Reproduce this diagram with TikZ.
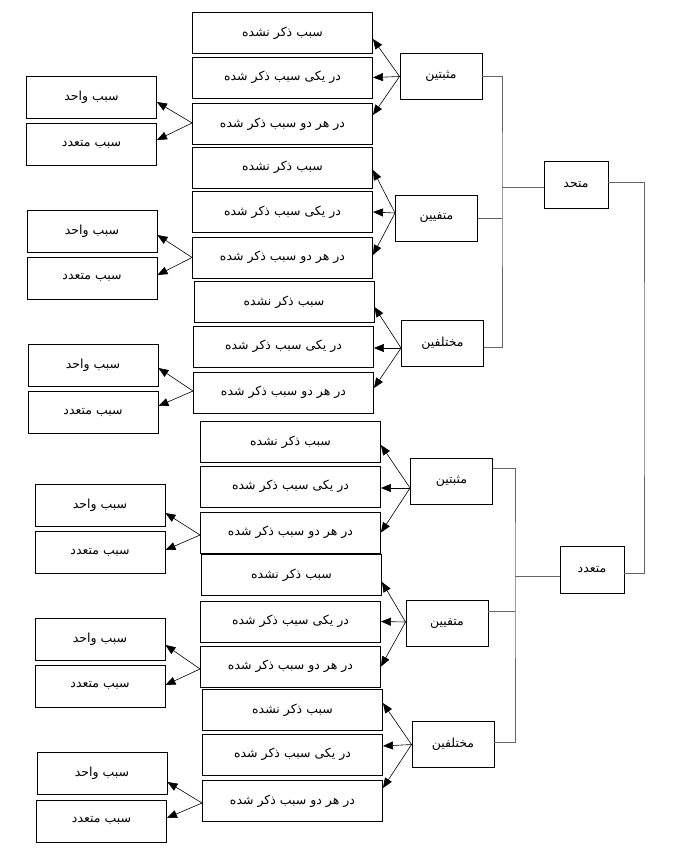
\documentclass[tikz,border=0pt]{standalone}
\usepackage{fontspec}
\newfontfamily\arabicfont[Script=Arabic]{DejaVu Sans}
\TeXXeTstate=1
\usetikzlibrary{arrows.meta}
\newcommand\rltext[1]{\arabicfont\beginR #1\endR}

\begin{document}
\begin{tikzpicture}[x=1pt,y=-1pt,
    box/.style={draw,line width=0.9pt,inner sep=0pt,font=\fontsize{12.5}{15}\selectfont},
    midbox/.style={box,minimum width=180pt,minimum height=41pt},
    sidebox/.style={box,minimum width=130pt,minimum height=42pt},
    kindbox/.style={box,minimum width=82pt,minimum height=46pt},
    rootbox/.style={box,minimum width=64pt,minimum height=47pt},
    arr/.style={-{Triangle[length=10pt,width=8pt]},line width=0.6pt},
    link/.style={draw=black!60,line width=0.9pt}]
  \useasboundingbox (0,0) rectangle (679,867);

  % roots
  \node [rootbox] (R1) at (576,184.5) {\rltext{متحد}};
  \node [rootbox] (R2) at (592,569.5) {\rltext{متعدد}};

  % kinds, upper half
  \node [kindbox] (A0) at (441,76.5) {\rltext{مثبتین}};
  \node [kindbox] (B0) at (436.5,218) {\rltext{متفیین}};
  \node [kindbox] (C0) at (442.5,343) {\rltext{مختلفین}};
  % kinds, lower half
  \node [kindbox] (D0) at (451.5,481) {\rltext{مثبتین}};
  \node [kindbox] (E0) at (447,623.5) {\rltext{متفیین}};
  \node [kindbox] (F0) at (453,744.5) {\rltext{مختلفین}};

  % middle column
  \node [midbox] (a1) at (282.5,33) {\rltext{سبب ذکر نشده}};
  \node [midbox] (a2) at (282.5,77.5) {\rltext{در یکی سبب ذکر شده}};
  \node [midbox] (a3) at (282.5,124) {\rltext{در هر دو سبب ذکر شده}};
  \node [midbox] (b1) at (282.5,167.5) {\rltext{سبب ذکر نشده}};
  \node [midbox] (b2) at (282.5,212) {\rltext{در یکی سبب ذکر شده}};
  \node [midbox] (b3) at (282.5,257.5) {\rltext{در هر دو سبب ذکر شده}};
  \node [midbox] (c1) at (284,302) {\rltext{سبب ذکر نشده}};
  \node [midbox] (c2) at (283.5,346.5) {\rltext{در یکی سبب ذکر شده}};
  \node [midbox] (c3) at (283.5,392.5) {\rltext{در هر دو سبب ذکر شده}};
  \node [midbox] (d1) at (290.5,442) {\rltext{سبب ذکر نشده}};
  \node [midbox] (d2) at (290.5,486.5) {\rltext{در یکی سبب ذکر شده}};
  \node [midbox] (d3) at (290.5,532.5) {\rltext{در هر دو سبب ذکر شده}};
  \node [midbox] (e1) at (291.5,575) {\rltext{سبب ذکر نشده}};
  \node [midbox] (e2) at (290.5,621.5) {\rltext{در یکی سبب ذکر شده}};
  \node [midbox] (e3) at (290.5,666.5) {\rltext{در هر دو سبب ذکر شده}};
  \node [midbox] (f1) at (292.5,710) {\rltext{سبب ذکر نشده}};
  \node [midbox] (f2) at (292.5,754.5) {\rltext{در یکی سبب ذکر شده}};
  \node [midbox] (f3) at (292.5,801) {\rltext{در هر دو سبب ذکر شده}};

  % left column
  \node [sidebox] (aL1) at (91.5,97) {\rltext{سبب واحد}};
  \node [sidebox] (aL2) at (91.5,144.5) {\rltext{سبب متعدد}};
  \node [sidebox] (bL1) at (92,231.5) {\rltext{سبب واحد}};
  \node [sidebox] (bL2) at (92,278) {\rltext{سبب متعدد}};
  \node [sidebox] (cL1) at (93,365) {\rltext{سبب واحد}};
  \node [sidebox] (cL2) at (93,412.5) {\rltext{سبب متعدد}};
  \node [sidebox] (dL1) at (100,505.5) {\rltext{سبب واحد}};
  \node [sidebox] (dL2) at (100,552.5) {\rltext{سبب متعدد}};
  \node [sidebox] (eL1) at (100,639.5) {\rltext{سبب واحد}};
  \node [sidebox] (eL2) at (100,686) {\rltext{سبب متعدد}};
  \node [sidebox] (fL1) at (102,773) {\rltext{سبب واحد}};
  \node [sidebox] (fL2) at (101.5,821) {\rltext{سبب متعدد}};

  % brackets on the right
  \coordinate (t1) at (502,187); \coordinate (t2) at (515,576);
  \coordinate (rr) at (644,380);
  \draw [link] (A0.east) -| (t1) |- ([yshift=-4]C0.east);
  \draw [link] (B0.east) -- (B0.east -| t1);
  \draw [link] (t1) -- (t1 -| R1.west);
  \draw [link] ([yshift=13]D0.east) -| (t2) |- ([yshift=2.5]F0.east);
  \draw [link] ([yshift=12.5]E0.east) -- ([yshift=12.5]E0.east -| t2);
  \draw [link] (t2) -- (t2 -| R2.west);
  \draw [link] ([yshift=2.5]R1.east) -| (rr) |- ([yshift=-3.5]R2.east);

  % arrows from the kinds
  \draw [arr] (A0.west) -- ([yshift=-6]a1.east);
  \draw [arr] (A0.west) -- (a2.east);
  \draw [arr] (A0.west) -- ([yshift=9]a3.east);
  \draw [arr] ([yshift=5]B0.west) -- ([yshift=-2.5]b1.east);
  \draw [arr] ([yshift=5]B0.west) -- (b2.east);
  \draw [arr] ([yshift=5]B0.west) -- ([yshift=2.5]b3.east);
  \draw [arr] ([yshift=-5]C0.west) -- ([yshift=-5]c1.east);
  \draw [arr] ([yshift=-5]C0.west) -- ([yshift=-1.5]c2.east);
  \draw [arr] ([yshift=-5]C0.west) -- ([yshift=4.5]c3.east);
  \draw [arr] ([yshift=-7]D0.west) -- ([yshift=-3]d1.east);
  \draw [arr] ([yshift=-7]D0.west) -- ([yshift=-1.5]d2.east);
  \draw [arr] ([yshift=-7]D0.west) -- (d3.east);
  \draw [arr] ([yshift=1.5]E0.west) -- ([yshift=-7]e1.east);
  \draw [arr] ([yshift=1.5]E0.west) -- (e2.east);
  \draw [arr] ([yshift=1.5]E0.west) -- (e3.east);
  \draw [arr] (F0.west) -- ([yshift=7]f1.east);
  \draw [arr] (F0.west) -- ([yshift=8.5]f2.east);
  \draw [arr] (F0.west) -- ([yshift=13]f3.east);

  % arrows to the left column
  \draw [arr] ([yshift=1]a3.west) -- ([yshift=-5]aL1.east);
  \draw [arr] ([yshift=1]a3.west) -- ([yshift=4.5]aL2.east);
  \draw [arr] (b3.west) -- ([yshift=-3.5]bL1.east);
  \draw [arr] (b3.west) -- ([yshift=3]bL2.east);
  \draw [arr] ([yshift=1.5]c3.west) -- ([yshift=-3]cL1.east);
  \draw [arr] ([yshift=1.5]c3.west) -- ([yshift=6.5]cL2.east);
  \draw [arr] ([yshift=-2.5]d3.west) -- ([yshift=-7.5]dL1.east);
  \draw [arr] ([yshift=-2.5]d3.west) -- ([yshift=2.5]dL2.east);
  \draw [arr] ([yshift=-2.5]e3.west) -- ([yshift=-5.5]eL1.east);
  \draw [arr] ([yshift=-2.5]e3.west) -- ([yshift=1]eL2.east);
  \draw [arr] ([yshift=-2]f3.west) -- ([yshift=-9]fL1.east);
  \draw [arr] ([yshift=-2]f3.west) -- ([yshift=3]fL2.east);
\end{tikzpicture}
\end{document}
